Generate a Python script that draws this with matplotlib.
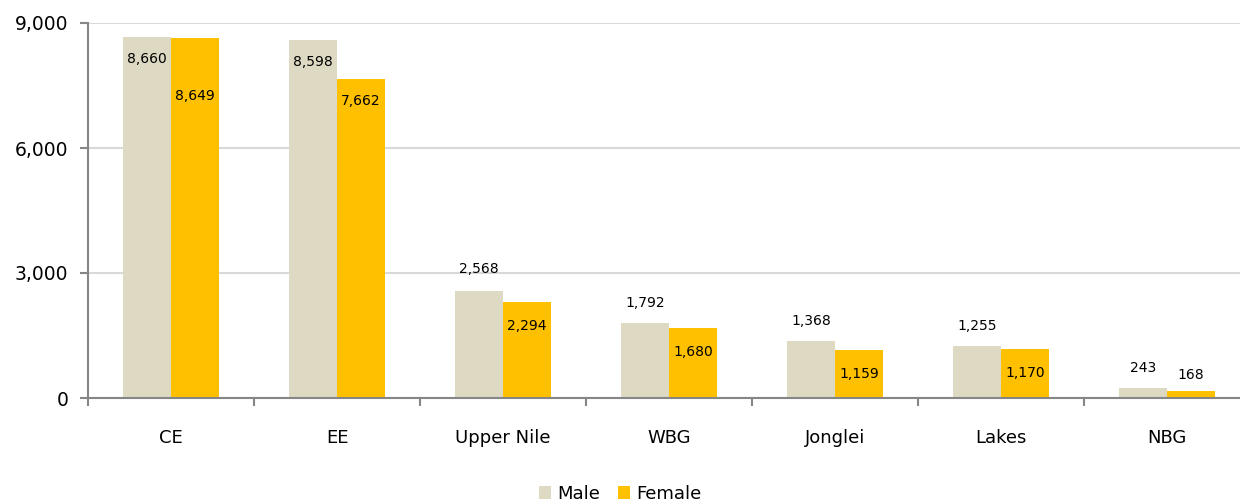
import numpy as np
import matplotlib.pyplot as plt
from matplotlib.ticker import FuncFormatter, FixedLocator

regions = ["CE", "EE", "Upper Nile", "WBG", "Jonglei", "Lakes", "NBG"]
male = [8660, 8598, 2568, 1792, 1368, 1255, 243]
female = [8649, 7662, 2294, 1680, 1159, 1170, 168]

# label offsets in pixels (negative = inside bar)
male_off = [-22, -22, 22, 20, 20, 20, 20]
female_off = [-58, -22, -24, -24, -24, -24, 16]

c_male = "#DDD9C3"
c_female = "#FFC000"
c_axis = "#868686"

plt.rcParams['font.family'] = ['DejaVu Sans']

fig = plt.figure(figsize=(12.4, 5.04), dpi=100)
ax = fig.add_axes([88 / 1240, 106 / 504, 1162 / 1240, 375 / 504])

x = np.arange(len(regions))
w = 48 / 166
ax.bar(x - w / 2, male, w, color=c_male, label="Male", zorder=2)
ax.bar(x + w / 2, female, w, color=c_female, label="Female", zorder=2)

for i in range(len(regions)):
    ax.annotate(f"{male[i]:,}", (x[i] - w / 2, male[i]), xytext=(0, male_off[i] * 0.72),
                textcoords="offset points", ha="center", va="center", fontsize=10)
    ax.annotate(f"{female[i]:,}", (x[i] + w / 2, female[i]), xytext=(0, female_off[i] * 0.72),
                textcoords="offset points", ha="center", va="center", fontsize=10)

ax.set_xlim(-0.5, len(regions) - 0.5)
ax.set_ylim(0, 9000)
ax.set_yticks([0, 3000, 6000, 9000])
ax.yaxis.set_major_formatter(FuncFormatter(lambda v, p: f"{int(v):,}"))
ax.yaxis.grid(True, color="#D9D9D9", linewidth=1.5, zorder=0)
ax.set_axisbelow(True)

ax.set_xticks(x)
ax.set_xticklabels(regions, fontsize=13)
ax.xaxis.set_minor_locator(FixedLocator(np.arange(-0.5, len(regions), 1.0)))
ax.tick_params(axis="x", which="major", length=0, pad=22)
ax.tick_params(axis="x", which="minor", length=6, width=1.5, color=c_axis)
ax.tick_params(axis="y", length=6, width=1.5, color=c_axis, labelsize=13.5, pad=8)

for s in ["top", "right"]:
    ax.spines[s].set_visible(False)
for s in ["left", "bottom"]:
    ax.spines[s].set_color(c_axis)
    ax.spines[s].set_linewidth(1.5)

fig.legend(loc="center", bbox_to_anchor=(620 / 1240, 1 - 494 / 504), ncol=2, frameon=False,
           fontsize=13, handlelength=0.7, handleheight=0.7, handletextpad=0.3, columnspacing=1.0)

fig.savefig("out.png", dpi=100)
